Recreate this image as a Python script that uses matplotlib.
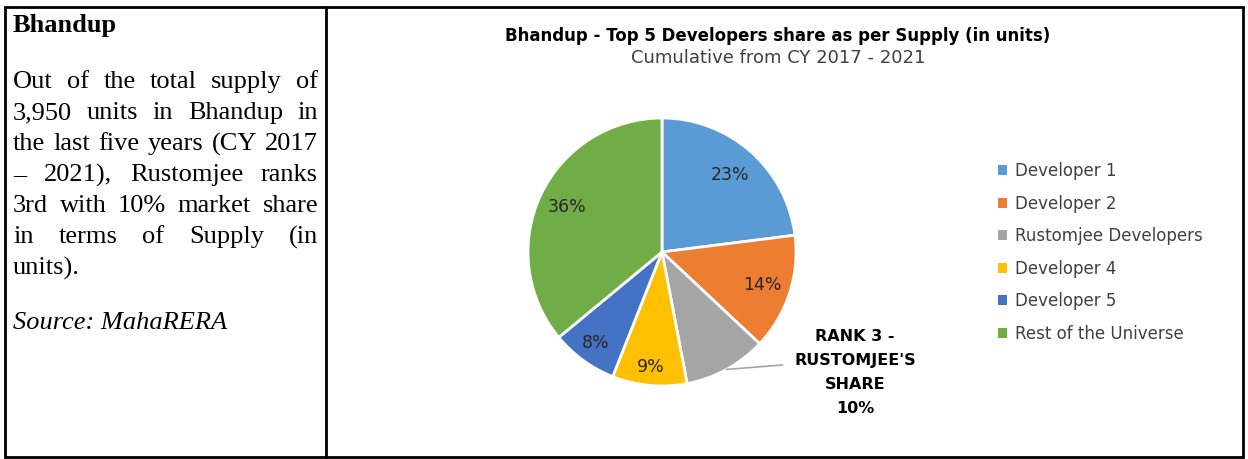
import matplotlib
matplotlib.use("Agg")
import matplotlib.pyplot as plt
from matplotlib.patches import Rectangle
from matplotlib.lines import Line2D
import numpy as np

# data
developers = ["Developer 1", "Developer 2", "Rustomjee Developers",
              "Developer 4", "Developer 5", "Rest of the Universe"]
shares = [23, 14, 10, 9, 8, 36]
colors = ["#5B9BD5", "#ED7D31", "#A5A5A5", "#FFC000", "#4472C4", "#70AD47"]

title = "Bhandup - Top 5 Developers share as per Supply (in units)"
subtitle = "Cumulative from CY 2017 - 2021"
callout = "RANK 3 -\nRUSTOMJEE'S\nSHARE\n10%"

heading = "Bhandup"
para_lines = ["Out of the total supply of",
              "3,950 units in Bhandup in",
              "the last five years (CY 2017",
              "\u2013 2021), Rustomjee ranks",
              "3rd with 10% market share",
              "in terms of Supply (in",
              "units)."]
source = "Source: MahaRERA"

W, H = 1248, 459
fig = plt.figure(figsize=(W / 100, H / 100), dpi=100)
renderer = fig.canvas.get_renderer()


def px(x, y):
    return (x / W, 1 - y / H)


# table borders
lw = 2.0
fig.add_artist(Rectangle(px(5, 457), (1243 - 5) / W, (457 - 7) / H,
                         fill=False, edgecolor="black", linewidth=lw,
                         transform=fig.transFigure))
fig.add_artist(Line2D([326 / W, 326 / W], [1 - 7 / H, 1 - 457 / H],
                      color="black", linewidth=lw, transform=fig.transFigure))

# left cell text
serif = "Liberation Serif"
fs = 19
base = 7  # baseline offset below the line centre, px
fig.text(*px(13, 25 + base), heading, fontsize=fs, fontweight="bold",
         family=serif, va="baseline", ha="left")


def justify(line, y, x0, x1, last=False):
    words = line.split()
    texts = [fig.text(0, 0, w, fontsize=fs, family=serif, va="baseline")
             for w in words]
    widths = [t.get_window_extent(renderer).width for t in texts]
    if last or len(words) == 1:
        gap = 5
    else:
        gap = (x1 - x0 - sum(widths)) / (len(words) - 1)
    x = x0
    for t, w in zip(texts, widths):
        t.set_position(px(x, y + base))
        x += w + gap


y0, step = 81, 31.1
for i, line in enumerate(para_lines):
    justify(line, y0 + i * step, 13, 318, last=(i == len(para_lines) - 1))
fig.text(*px(13, 322 + base), source, fontsize=fs, family=serif,
         style="italic", va="baseline", ha="left")

# chart title
sans = "DejaVu Sans"
fig.text(*px(778, 36), title, fontsize=12, fontweight="bold", family=sans,
         ha="center", va="center", color="black")
fig.text(*px(778, 58), subtitle, fontsize=13, family=sans,
         ha="center", va="center", color="#404040")

# pie
cx, cy, r = 662, 252, 134
ax = fig.add_axes([(cx - r) / W, 1 - (cy + r) / H, 2 * r / W, 2 * r / H])
wedges, _ = ax.pie(shares, colors=colors, startangle=90, counterclock=False,
                   radius=1, wedgeprops=dict(edgecolor="white", linewidth=2))
ax.set_xlim(-1, 1)
ax.set_ylim(-1, 1)
ax.axis("off")

label_r = [0.77, 0.79, 0, 0.86, 0.84, 0.78]
for w, v, lr in zip(wedges, shares, label_r):
    if lr == 0:
        continue
    ang = np.deg2rad((w.theta1 + w.theta2) / 2)
    ax.text(lr * np.cos(ang), lr * np.sin(ang), f"{v}%", ha="center",
            va="center", fontsize=12.5, family=sans, color="#262626")

# callout for Rustomjee
w = wedges[2]
ang = np.deg2rad((w.theta1 + w.theta2) / 2)
ax.annotate("", xy=(np.cos(ang), np.sin(ang)), xytext=(0.9, -0.843),
            arrowprops=dict(arrowstyle="-", color="#A5A5A5", lw=1.2,
                            shrinkA=0, shrinkB=0), annotation_clip=False)
ax.text(1.44, -0.9, callout, ha="center", va="center", fontsize=11.5,
        fontweight="bold", family=sans, linespacing=1.75, clip_on=False)

# legend
leg = fig.legend(wedges, developers, loc="upper left",
                 bbox_to_anchor=px(998, 162), frameon=False,
                 prop=dict(family=sans, size=12), handlelength=0.55,
                 handleheight=0.55, handletextpad=0.45, labelspacing=0.87,
                 borderpad=0, borderaxespad=0)
for t in leg.get_texts():
    t.set_color("#404040")
for h in leg.legend_handles:
    h.set_edgecolor("none")

fig.savefig("out.png", dpi=100)
